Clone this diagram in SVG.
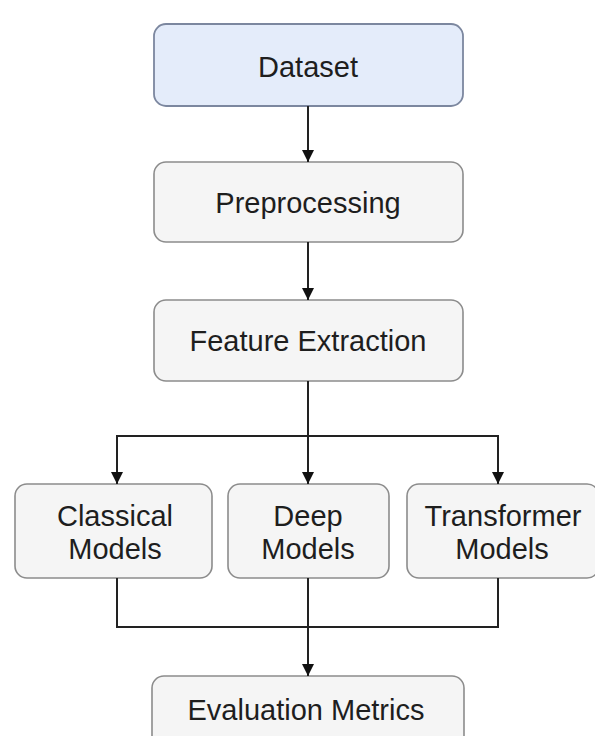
<svg xmlns="http://www.w3.org/2000/svg" width="595" height="736" viewBox="0 0 595 736">
<style>
.box{fill:#f5f5f5;stroke:#8c8c8c;stroke-width:1.6}
.blue{fill:#e4ecfa;stroke:#7c879f;stroke-width:1.8}
.lbl{font-family:"Liberation Sans",Arial,Helvetica,sans-serif;font-size:29px;fill:#1e1e1e;text-anchor:middle}
.edge{fill:none;stroke:#222;stroke-width:2}
</style>
<defs>
<marker id="arr" markerUnits="userSpaceOnUse" markerWidth="12" markerHeight="12" viewBox="0 0 12 12" refX="12" refY="6" orient="auto">
<path d="M0,0 L12,6 L0,12 z" fill="#111"/>
</marker>
</defs>
<rect width="595" height="736" fill="#ffffff"/>
<g id="dataset"><rect class="blue" x="154" y="24" width="309" height="82" rx="12"/><text class="lbl" x="308" y="77">Dataset</text></g>
<g id="preprocessing"><rect class="box" x="154" y="162" width="309" height="80" rx="12"/><text class="lbl" x="308" y="213">Preprocessing</text></g>
<g id="feature"><rect class="box" x="154" y="300" width="309" height="81" rx="12"/><text class="lbl" x="308" y="351">Feature Extraction</text></g>
<g id="classical"><rect class="box" x="15" y="484" width="197" height="94" rx="12"/><text class="lbl" x="115" y="526">Classical</text><text class="lbl" x="115" y="559">Models</text></g>
<g id="deep"><rect class="box" x="228" y="484" width="161" height="94" rx="12"/><text class="lbl" x="308" y="526">Deep</text><text class="lbl" x="308" y="559">Models</text></g>
<g id="transformer"><rect class="box" x="407" y="484" width="192" height="94" rx="12"/><text class="lbl" x="503" y="526">Transformer</text><text class="lbl" x="502" y="559">Models</text></g>
<g id="evaluation"><rect class="box" x="152" y="676" width="312" height="80" rx="12"/><text class="lbl" x="306" y="720">Evaluation Metrics</text></g>
<g id="connectors">
<path class="edge" d="M308,106 V162" marker-end="url(#arr)"/>
<path class="edge" d="M308,242 V300" marker-end="url(#arr)"/>
<path class="edge" d="M308,381 V484" marker-end="url(#arr)"/>
<path class="edge" d="M308,436 H117 V484" marker-end="url(#arr)"/>
<path class="edge" d="M308,436 H498 V484" marker-end="url(#arr)"/>
<path class="edge" d="M117,578 V627 H498 V578"/>
<path class="edge" d="M308,578 V676" marker-end="url(#arr)"/>
</g>
</svg>
